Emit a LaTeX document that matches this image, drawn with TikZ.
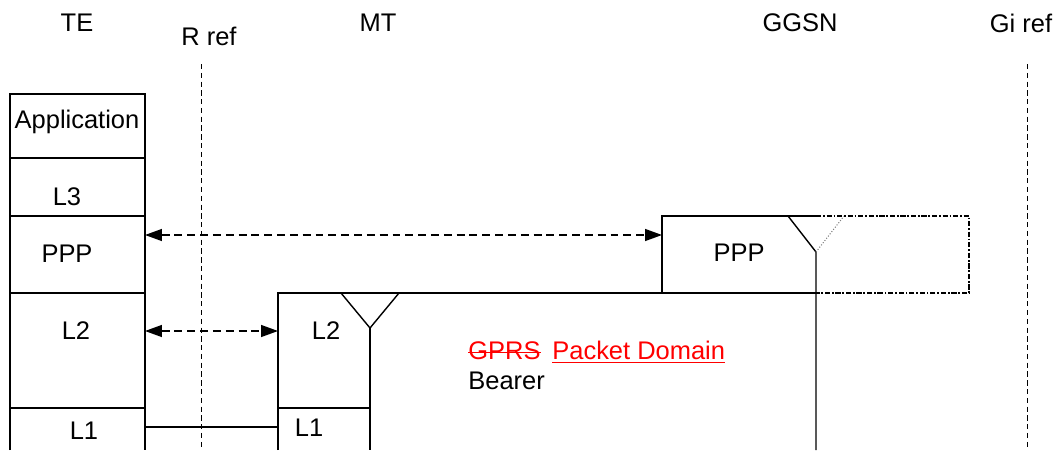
\documentclass[tikz,border=0pt]{standalone}
\usepackage{fontspec}
\setmainfont{Liberation Sans}
\usetikzlibrary{arrows.meta}

\begin{document}
\begin{tikzpicture}[x=0.02cm,y=-0.02cm,
    txt/.style={font=\fontsize{14.5}{17}\selectfont, inner sep=0pt},
    box/.style={line width=0.8pt},
    refline/.style={line width=0.5pt, dash pattern=on 3pt off 2pt},
    peer/.style={line width=0.8pt, dash pattern=on 4.5pt off 2.8pt,
        {Triangle[length=0.34cm,width=0.24cm]}-{Triangle[length=0.34cm,width=0.24cm]}},
    virt/.style={line width=0.8pt, dash pattern=on 3pt off 1pt on 1pt off 1pt}]
    \useasboundingbox (0,0) rectangle (1060,450);
    % headings
    \node[txt] (te) at (77,23) {TE};
    \node[txt] (rref) at (209,36) {R ref};
    \node[txt] (mt) at (378,23) {MT};
    \node[txt] (ggsn) at (800,23) {GGSN};
    \node[txt] (giref) at (1021,23) {Gi ref};
    % reference points
    \coordinate (rtop) at (201,64);
    \coordinate (rbot) at (201,450);
    \coordinate (gitop) at (1027,64);
    \coordinate (gibot) at (1027,450);
    \draw[refline] (rtop) -- (rbot);
    \draw[refline] (gitop) -- (gibot);
    % TE stack
    \draw[box] (10,450) |- (145,94) -- (145,450);
    \foreach \y in {158,216,293,408}
        \draw[box] (10,\y) -- (145,\y);
    \node[txt] (teapp) at (77,122) {Application};
    \node[txt] (tel3) at (67,197) {L3};
    \node[txt] (teppp) at (67,254) {PPP};
    \node[txt] (tel2) at (76,331) {L2};
    \node[txt] (tel1) at (84,431) {L1};
    % MT stack
    \draw[box] (278,450) |- (816,293);
    \draw[box] (341,293) -- (370,328) -- (399,293);
    \draw[box] (370,328) -- (370,450);
    \draw[box] (278,408) -- (370,408);
    \node[txt] (mtl2) at (326,331) {L2};
    \node[txt] (mtl1) at (309,428) {L1};
    % GGSN
    \draw[box] (816,293) -| (662,216) -- (816,216);
    \draw[box] (788,216) -- (816,252) -- (816,450);
    \draw[gray, densely dotted, line width=0.6pt] (816,252) -- (844,216);
    \draw[virt] (816,216) -| (969,293) -- (816,293);
    \node[txt] (ggsnppp) at (739,253) {PPP};
    % peer links
    \coordinate (teR) at (145,235);
    \coordinate (ggsnL) at (662,235);
    \coordinate (tel2R) at (145,331);
    \coordinate (mtl2L) at (278,331);
    \coordinate (tel1R) at (145,427);
    \coordinate (mtl1L) at (278,427);
    \draw[peer] (teR) -- (ggsnL);
    \draw[peer] (tel2R) -- (mtl2L);
    \draw[box] (tel1R) -- (mtl1L);
    % bearer (with revision marks)
    \node[txt, anchor=base west, text=red] (gprs) at (468,359) {GPRS};
    \node[txt, anchor=base west, text=red] (pdom) at (552,359) {Packet Domain};
    \node[txt, anchor=base west] (bearer) at (468,389) {Bearer};
    \draw[red, line width=0.8pt] ([yshift=3.6pt]gprs.base west) -- ([yshift=3.6pt]gprs.base east);
    \draw[red, line width=0.8pt] ([yshift=-2pt]pdom.base west) -- ([yshift=-2pt]pdom.base east);
\end{tikzpicture}
\end{document}
